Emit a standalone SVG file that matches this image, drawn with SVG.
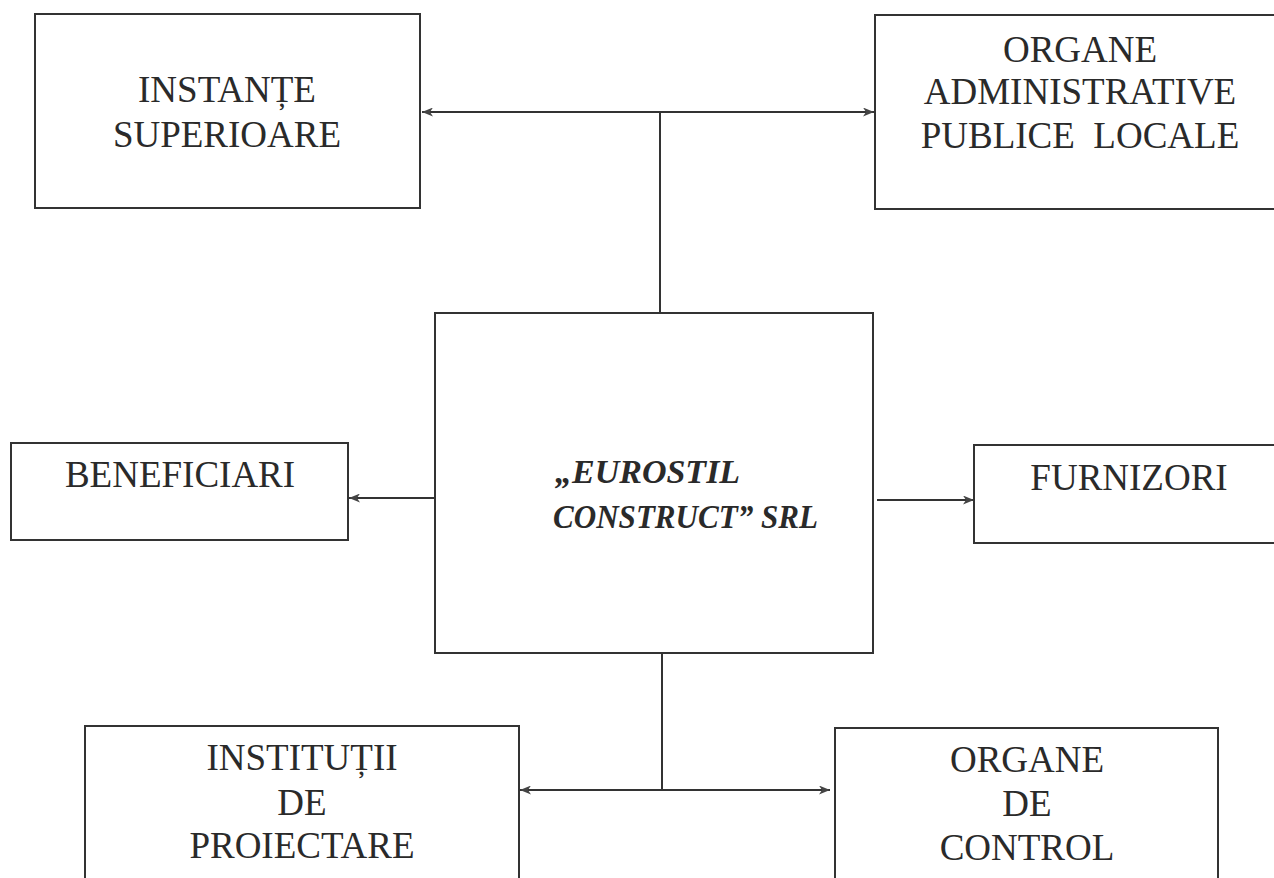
<svg xmlns="http://www.w3.org/2000/svg" width="1274" height="878" viewBox="0 0 1274 878">
<style>
.box{fill:#fff;stroke:#333;stroke-width:2}
.t{font-family:"Liberation Serif","Times New Roman",serif;font-size:37px;fill:#2a2a2a;text-anchor:middle}
.c{font-family:"Liberation Serif","Times New Roman",serif;font-size:34px;font-weight:bold;font-style:italic;fill:#2a2a2a}
.ln{stroke:#333;stroke-width:2;fill:none}
</style>
<defs>
<marker id="ah" markerUnits="userSpaceOnUse" markerWidth="11" markerHeight="9" refX="11" refY="4.5" orient="auto">
<path d="M0,0 L11,4.5 L0,9 L3,4.5 z" fill="#444"/>
</marker>
</defs>
<rect width="1274" height="878" fill="#fff"/>
<g id="connectors">
<line class="ln" x1="660" y1="313" x2="660" y2="112"/>
<line class="ln" x1="660" y1="112" x2="422" y2="112" marker-end="url(#ah)"/>
<line class="ln" x1="660" y1="112" x2="874" y2="112" marker-end="url(#ah)"/>
<line class="ln" x1="445" y1="498" x2="349" y2="498" marker-end="url(#ah)"/>
<line class="ln" x1="877" y1="500" x2="974" y2="500" marker-end="url(#ah)"/>
<line class="ln" x1="662" y1="652" x2="662" y2="790"/>
<line class="ln" x1="662" y1="790" x2="520" y2="790" marker-end="url(#ah)"/>
<line class="ln" x1="662" y1="790" x2="830" y2="790" marker-end="url(#ah)"/>
</g>
<g id="instante">
<rect class="box" x="35" y="14" width="385" height="194"/>
<text class="t" x="227" y="102">INSTANȚE</text>
<text class="t" x="227" y="147">SUPERIOARE</text>
</g>
<g id="organe-admin">
<rect class="box" x="875" y="15" width="420" height="194"/>
<text class="t" x="1080" y="62">ORGANE</text>
<text class="t" x="1080" y="104">ADMINISTRATIVE</text>
<text class="t" x="1080" y="148" style="white-space:pre">PUBLICE  LOCALE</text>
</g>
<g id="eurostil">
<rect class="box" x="435" y="313" width="438" height="340"/>
<text class="c" x="555" y="483">„EUROSTIL</text>
<text class="c" x="553" y="528" textLength="265" lengthAdjust="spacingAndGlyphs">CONSTRUCT” SRL</text>
</g>
<g id="beneficiari">
<rect class="box" x="11" y="443" width="337" height="97"/>
<text class="t" x="180" y="487">BENEFICIARI</text>
</g>
<g id="furnizori">
<rect class="box" x="974" y="445" width="320" height="98"/>
<text class="t" x="1129" y="490">FURNIZORI</text>
</g>
<g id="institutii">
<rect class="box" x="85" y="726" width="434" height="170"/>
<text class="t" x="302" y="770">INSTITUȚII</text>
<text class="t" x="302" y="815">DE</text>
<text class="t" x="302" y="858">PROIECTARE</text>
</g>
<g id="organe-control">
<rect class="box" x="835" y="728" width="383" height="170"/>
<text class="t" x="1027" y="772">ORGANE</text>
<text class="t" x="1027" y="816">DE</text>
<text class="t" x="1027" y="860">CONTROL</text>
</g>
</svg>
